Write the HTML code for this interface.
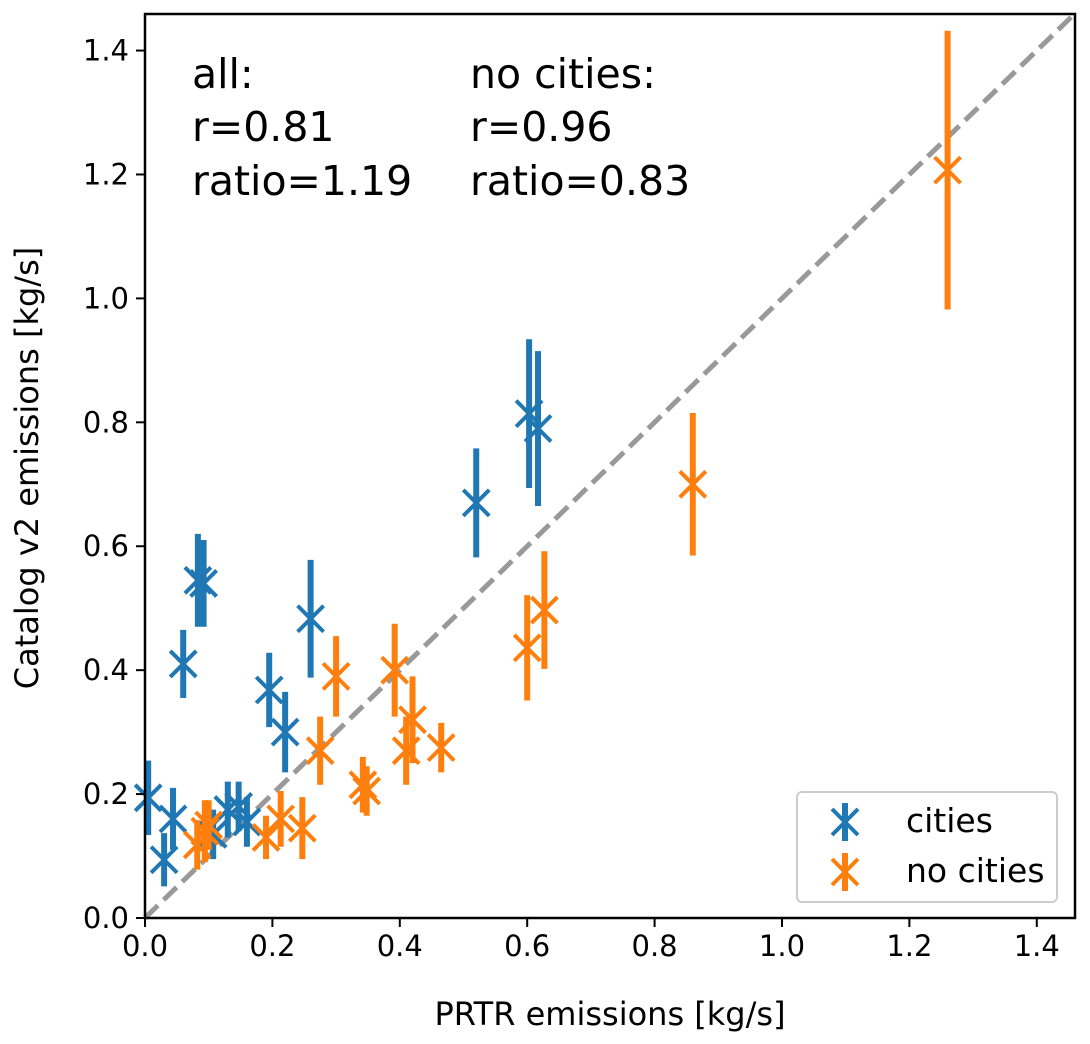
<!DOCTYPE html>
<html><head><meta charset="utf-8"><style>
html,body{margin:0;padding:0;background:#fff}
svg{display:block;font-family:"DejaVu Sans","Liberation Sans",sans-serif}
</style></head><body>
<svg id="chart" width="1090" height="1044" viewBox="0 0 1090 1044">
<g id="plot"></g>
</svg>
<script>
const citiesX=[0.005,0.044,0.03,0.06,0.083,0.092,0.195,0.22,0.26,0.52,0.603,0.617,0.107,0.13,0.147,0.16];
const citiesY=[0.194,0.16,0.094,0.41,0.545,0.54,0.368,0.30,0.483,0.67,0.814,0.79,0.135,0.175,0.18,0.155];
const citiesErr=[0.06,0.05,0.043,0.055,0.075,0.07,0.06,0.065,0.095,0.088,0.12,0.125,0.04,0.045,0.04,0.04];
const noCitiesX=[0.082,0.094,0.1,0.19,0.213,0.247,0.275,0.30,0.342,0.348,0.392,0.41,0.42,0.465,0.60,0.627,0.86,1.26];
const noCitiesY=[0.118,0.14,0.15,0.13,0.16,0.145,0.27,0.39,0.215,0.205,0.40,0.27,0.32,0.275,0.436,0.497,0.70,1.207];
const noCitiesErr=[0.04,0.05,0.04,0.035,0.045,0.05,0.055,0.065,0.045,0.04,0.075,0.055,0.07,0.04,0.085,0.095,0.115,0.225];
const xTicks=[0,0.2,0.4,0.6,0.8,1.0,1.2,1.4];
const yTicks=[0,0.2,0.4,0.6,0.8,1.0,1.2,1.4];
const tickLabels=["0.0","0.2","0.4","0.6","0.8","1.0","1.2","1.4"];

const L=145,R=1075,T=14,B=918,XMAX=1.46,YMAX=1.459;
const sx=v=>L+v/XMAX*(R-L);
const sy=v=>B-v/YMAX*(B-T);
const NS="http://www.w3.org/2000/svg";
const g=document.getElementById('plot');
function mk(tag,attrs,parent){const e=document.createElementNS(NS,tag);for(const k in attrs)e.setAttribute(k,attrs[k]);(parent||g).appendChild(e);return e;}

const diag=mk('line',{x1:sx(0),y1:sy(0),x2:sx(1.46),y2:sy(1.46),stroke:'#999',"stroke-width":5,"stroke-dasharray":"18,8"});



function series(xs,ys,es,color,name){
  const sg=mk('g',{});
  
  
  xs.forEach((x,i)=>{
    const cx=sx(x),cy=sy(ys[i]);
    const eb=mk('line',{x1:cx,x2:cx,y1:sy(ys[i]-es[i]),y2:sy(ys[i]+es[i]),stroke:color,"stroke-width":6},sg);
    
    
    const m=mk('path',{d:`M${cx-13},${cy-13}L${cx+13},${cy+13}M${cx-13},${cy+13}L${cx+13},${cy-13}`,stroke:color,"stroke-width":4,fill:'none'},sg);
    
    
  });
}
series(citiesX,citiesY,citiesErr,'#1f77b4','cities');
series(noCitiesX,noCitiesY,noCitiesErr,'#ff7f0e','no-cities');

const fr=mk('rect',{x:L,y:T,width:R-L,height:B-T,fill:'none',stroke:'#000',"stroke-width":2.5});



xTicks.forEach((v,i)=>{
  const x=sx(v);
  mk('line',{x1:x,x2:x,y1:B,y2:B+9,stroke:'#000',"stroke-width":2});
  const t=mk('text',{x:x,y:B+38,"text-anchor":'middle',"font-size":29,fill:'#000'});
  t.textContent=tickLabels[i];
  
  
});
yTicks.forEach((v,i)=>{
  const y=sy(v);
  mk('line',{x1:L-9,x2:L,y1:y,y2:y,stroke:'#000',"stroke-width":2});
  const t=mk('text',{x:L-16,y:y+10,"text-anchor":'end',"font-size":29,fill:'#000'});
  t.textContent=tickLabels[i];
  
  
});
</script>
<svg style="position:absolute;left:0;top:0" width="1090" height="1044">
<g font-family="DejaVu Sans, Liberation Sans, sans-serif">
<text x="610" y="1025" text-anchor="middle" font-size="32">PRTR emissions [kg/s]</text>
<text transform="translate(38,468) rotate(-90)" text-anchor="middle" font-size="32">Catalog v2 emissions [kg/s]</text>
<g font-size="41">
<text x="192" y="88">all:</text><text x="192" y="141">r=0.81</text><text x="192" y="195">ratio=1.19</text></g>
<g font-size="41">
<text x="470" y="88">no cities:</text><text x="470" y="141">r=0.96</text><text x="470" y="195">ratio=0.83</text></g>
<g>
<rect x="797" y="792" width="260" height="110" rx="5" fill="#fff" fill-opacity="0.8" stroke="#ccc" stroke-width="2"/>
<g>
<line x1="845" x2="845" y1="803" y2="841" stroke="#1f77b4" stroke-width="6"/>
<path d="M832,809L858,835M832,835L858,809" stroke="#1f77b4" stroke-width="4"/>
<text x="906" y="832" font-size="33">cities</text></g>
<g>
<line x1="845" x2="845" y1="853" y2="891" stroke="#ff7f0e" stroke-width="6"/>
<path d="M832,859L858,885M832,885L858,859" stroke="#ff7f0e" stroke-width="4"/>
<text x="906" y="882" font-size="33">no cities</text></g>
</g>
</g>
</svg>
</body></html>
